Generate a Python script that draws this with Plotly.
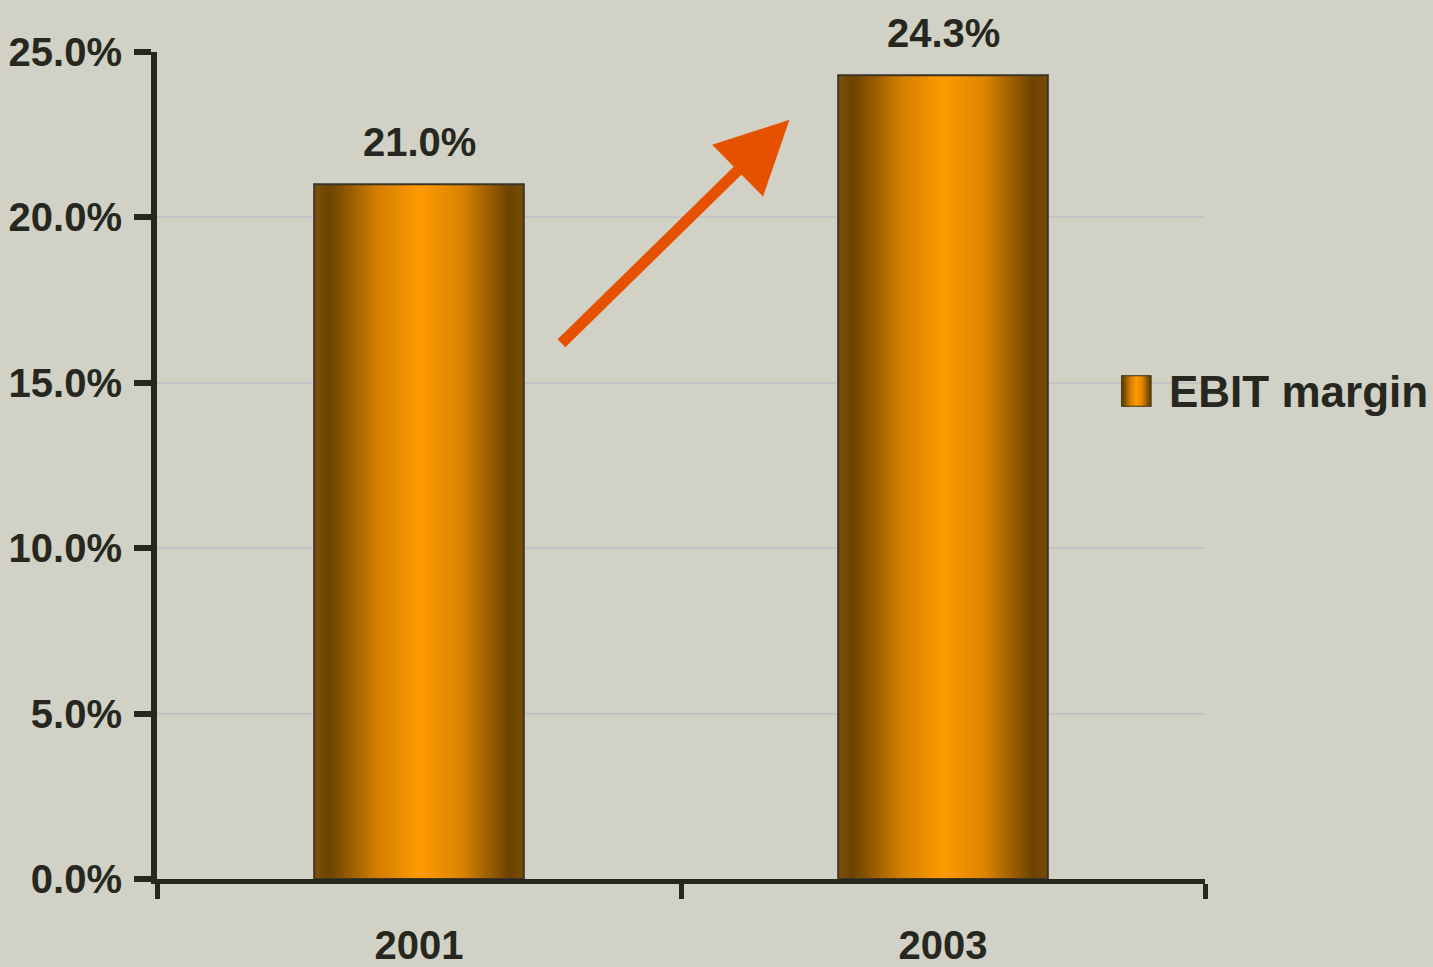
import plotly.graph_objects as go

# ---- data ----
years = ["2001", "2003"]
ebit_margin = [21.0, 24.3]          # percent
series_name = "EBIT margin"
y_ticks = [0, 5, 10, 15, 20, 25]

# ---- styles ----
BG = "#D1D1C5"
DARK = "#26281F"
GRID = "#C3C2C6"
ARROW = "#E65100"
FONT = "Liberation Sans Narrow, Arial Narrow, Liberation Sans, Arial, sans-serif"
GRAD = [[0.0, "#80520a"], [0.07, "#6c4300"], [0.3, "#d27e00"],
        [0.5, "#ff9a00"], [0.7, "#dc8400"], [0.93, "#6c4300"], [1.0, "#7a4c05"]]
BAR_W = 0.4
TICK_SIZE = 40

fig = go.Figure()

for i, (yr, v) in enumerate(zip(years, ebit_margin)):
    x0, x1 = i - BAR_W / 2, i + BAR_W / 2
    fig.add_trace(go.Scatter(
        x=[x0, x1, x1, x0, x0], y=[0, 0, v, v, 0],
        mode="lines", fill="toself",
        fillgradient=dict(type="horizontal", colorscale=GRAD),
        line=dict(color="#3a3524", width=2),
        hoverinfo="skip", showlegend=False,
    ))
    fig.add_annotation(x=i, y=v, text=f"{v:.1f}%", showarrow=False,
                       yanchor="bottom", yshift=18,
                       font=dict(family=FONT, size=TICK_SIZE, color=DARK, weight="bold"))

# legend swatch on its own small axes
fig.add_trace(go.Scatter(
    x=[0, 1, 1, 0, 0], y=[0, 0, 1, 1, 0], xaxis="x2", yaxis="y2",
    mode="lines", fill="toself",
    fillgradient=dict(type="horizontal", colorscale=GRAD),
    line=dict(color="#3a3524", width=2), hoverinfo="skip", showlegend=False,
))

# cover for gridline behind legend
fig.add_shape(type="rect", xref="paper", yref="paper",
              x0=0.907, x1=1.22, y0=0.54, y1=0.64,
              fillcolor=BG, line=dict(width=0), layer="between")

fig.add_annotation(xref="paper", yref="paper", x=0.9637, y=0.590,
                   xanchor="left", yanchor="middle", showarrow=False,
                   text=series_name,
                   font=dict(family=FONT, size=44, color=DARK, weight="bold"))

# growth arrow
fig.add_annotation(x=0.707, y=22.95, ax=0.269, ay=16.15, axref="x", ayref="y",
                   text="", showarrow=True, arrowhead=2, arrowwidth=11,
                   arrowsize=1.32, arrowcolor=ARROW, standoff=0)

fig.update_layout(
    width=1433, height=967,
    paper_bgcolor=BG, plot_bgcolor=BG,
    margin=dict(l=157, r=228, t=52, b=88, autoexpand=False),
    font=dict(family=FONT, color=DARK),
    showlegend=False,
    xaxis=dict(
        range=[-0.5, 1.5], tickvals=[0, 1], ticktext=years,
        ticks="", showgrid=False, zeroline=False, automargin=False,
        showline=True, linewidth=5, linecolor=DARK,
        tickfont=dict(family=FONT, size=TICK_SIZE, color=DARK, weight="bold"),
        ticklabelstandoff=27,
        minor=dict(tick0=-0.5, dtick=1, ticks="outside", ticklen=15,
                   tickwidth=5, tickcolor=DARK, showgrid=False),
        fixedrange=True,
    ),
    yaxis=dict(
        range=[0, 25], tickvals=y_ticks, automargin=False,
        ticktext=[f"{t:.1f}%" for t in y_ticks],
        ticks="outside", ticklen=17, tickwidth=6, tickcolor=DARK,
        showline=True, linewidth=6, linecolor=DARK,
        showgrid=True, gridcolor=GRID, gridwidth=2, zeroline=False,
        tickfont=dict(family=FONT, size=TICK_SIZE, color=DARK, weight="bold"),
        ticklabelstandoff=4,
        fixedrange=True,
    ),
    xaxis2=dict(domain=[0.920, 0.949], range=[0, 1], visible=False,
                anchor="y2", fixedrange=True),
    yaxis2=dict(domain=[0.571, 0.609], range=[0, 1], visible=False,
                anchor="x2", fixedrange=True),
)

fig.write_html("out.html", config={"displayModeBar": False},
               post_script="document.body.style.margin='0';")
